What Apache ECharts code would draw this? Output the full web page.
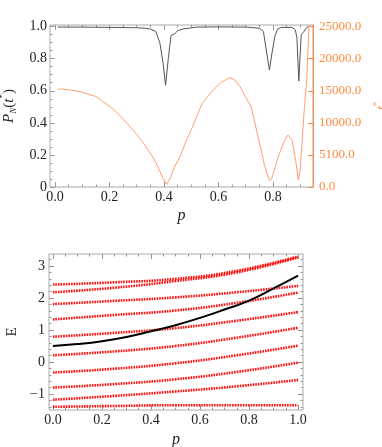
<!DOCTYPE html>
<html style="height: 100%">
<head>
<meta charset="utf-8">
<script src="https://cdn.jsdelivr.net/npm/echarts@6/dist/echarts.min.js"></script>
<style type="text/css">
  *{ margin: 0; padding: 0; }
</style>
</head>
<body style="height: 100%; margin: 0; background: #fff">
<div id="container" style="width: 382px; height: 447px"></div>
<script type="text/javascript">
// ---- top panel: P_N(t*) (gray, left axis) and t* (orange, right axis) vs p
var grayP = [0.01, 0.1, 0.2, 0.3, 0.33, 0.35, 0.37, 0.385, 0.397, 0.406, 0.416, 0.426, 0.44, 0.45, 0.47, 0.52,
             0.6, 0.7, 0.75, 0.765, 0.775, 0.787, 0.797, 0.807, 0.817, 0.83, 0.87, 0.882, 0.888, 0.895, 0.9,
             0.904, 0.912, 0.924, 0.93];
var grayVal = [0.997, 0.997, 0.995, 0.993, 0.99, 0.985, 0.97, 0.90, 0.77, 0.635, 0.80, 0.945, 0.955, 0.975, 0.985, 0.997,
               0.998, 0.997, 0.99, 0.97, 0.86, 0.73, 0.84, 0.94, 0.985, 0.995, 0.995, 0.98, 0.93, 0.66, 0.83,
               0.95, 0.965, 0.995, 1.0];
var orangeP = [0.01, 0.02, 0.05, 0.085, 0.12, 0.15, 0.18, 0.21, 0.24, 0.27, 0.30, 0.33, 0.36, 0.38, 0.395, 0.41,
               0.425, 0.44, 0.46, 0.48, 0.50, 0.54, 0.58, 0.61, 0.64, 0.66, 0.68, 0.70, 0.72, 0.75, 0.77, 0.787,
               0.795, 0.82, 0.84, 0.855, 0.87, 0.885, 0.893, 0.90, 0.914, 0.924, 0.932];
var orangeVal = [15150, 15300, 15150, 14950, 14500, 14100, 13200, 12250, 11100, 9650, 8200, 6550, 4600, 2950, 1500, 380,
                 1600, 3200, 4800, 7000, 8900, 13000, 15100, 16300, 17050, 16700, 15600, 14000, 12500, 7000, 3200, 1000,
                 1250, 4750, 7000, 8100, 7300, 3700, 1100, 2650, 11500, 16700, 25000];
var topXTicks = [0, 0.2, 0.4, 0.6, 0.8];
var leftYTicks = [0, 0.2, 0.4, 0.6, 0.8, 1.0];
var rightYTicks = [0, 5000, 10000, 15000, 20000, 25000];
var rightYLabels = ['0.0', '5100.0', '10000.0', '15000.0', '20000.0', '25000.0'];

// ---- bottom panel: levels E vs p (red) and the black curve
var levelP = [0, 0.25, 0.5, 0.75, 1];
var level1 = [-1.40, -1.375, -1.35, -1.35, -1.35];
var level2 = [-1.18, -1.06, -0.92, -0.76, -0.56];
var level3 = [-0.80, -0.69, -0.54, -0.31, -0.02];
var level4 = [-0.33, -0.21, -0.04, 0.21, 0.51];
var level5 = [0.21, 0.33, 0.50, 0.76, 1.07];
var level6 = [0.79, 0.91, 1.06, 1.29, 1.56];
var level7 = [1.33, 1.47, 1.61, 1.85, 2.17];
var level8 = [1.81, 1.91, 2.02, 2.18, 2.38];
var level9 = [2.18, 2.32, 2.53, 2.80, 3.27];
var level10 = [2.42, 2.49, 2.60, 2.85, 3.30];
var levels = [level1, level2, level3, level4, level5, level6, level7, level8, level9, level10];
var blackP = [0, 0.1, 0.2, 0.3, 0.4, 0.5, 0.6, 0.7, 0.8, 0.9, 1.0];
var blackE = [0.50, 0.56, 0.65, 0.78, 0.96, 1.15, 1.38, 1.64, 1.92, 2.30, 2.70];
var botXTicks = [0, 0.2, 0.4, 0.6, 0.8, 1.0];
var botYTicks = [-1, 0, 1, 2, 3];

var serif = '"Liberation Serif", "DejaVu Serif", serif';
var tickColor = '#999';
var orange = '#ff8a3d';

function steps(a, b, d) {
  var r = [];
  for (var i = 0; a + i * d <= b + 1e-9; i++) r.push(+(a + i * d).toFixed(4));
  return r;
}
function minorOf(all, majors) {
  return all.filter(function (v) {
    return majors.every(function (m) { return Math.abs(m - v) > 1e-6; });
  });
}
function zip(xs, ys) {
  return xs.map(function (x, i) { return [x, ys[i]]; });
}
// an axis that only draws inward frame ticks
function tickAxis(grid, min, max, pos, vals, len, extra) {
  var a = {
    gridIndex: grid, type: 'value', min: min, max: max, position: pos,
    axisLine: {show: false, onZero: false}, splitLine: {show: false},
    axisTick: {show: true, inside: true, length: len, customValues: vals,
               lineStyle: {color: tickColor, width: 1}},
    axisLabel: {show: false}
  };
  for (var k in extra) a[k] = extra[k];
  return a;
}

var topX = [-0.018, 0.947], topY = [0, 1.01], topR = [0, 25250];
var botX = [-0.016, 1.02], botY = [-1.5, 3.375];

function lab(vals, fmt, margin, extra) {
  var o = {show: true, color: '#222', fontFamily: serif, fontSize: 14, customValues: vals, formatter: fmt, margin: margin};
  for (var k in extra) o[k] = extra[k];
  return o;
}
var nameStyle = {fontFamily: serif, fontSize: 15, color: '#222'};

var xAxes = [
  tickAxis(0, topX[0], topX[1], 'bottom', topXTicks, 5, {
    axisLabel: lab(topXTicks, function (v) { return v.toFixed(1); }, 3),
    name: 'p', nameLocation: 'middle', nameGap: 21,
    nameTextStyle: {fontFamily: serif, fontSize: 16, fontStyle: 'italic', color: '#222'}
  }),
  tickAxis(0, topX[0], topX[1], 'bottom', minorOf(steps(0, 0.9, 0.05), topXTicks), 2.5),
  tickAxis(0, topX[0], topX[1], 'top', topXTicks, 5),
  tickAxis(0, topX[0], topX[1], 'top', minorOf(steps(0, 0.9, 0.05), topXTicks), 2.5),
  tickAxis(1, botX[0], botX[1], 'bottom', botXTicks, 5, {
    axisLabel: lab(botXTicks, function (v) { return v.toFixed(1); }, 3),
    name: 'p', nameLocation: 'middle', nameGap: 22,
    nameTextStyle: {fontFamily: serif, fontSize: 16, fontStyle: 'italic', color: '#222'}
  }),
  tickAxis(1, botX[0], botX[1], 'bottom', minorOf(steps(0, 1, 0.05), botXTicks), 2.5),
  tickAxis(1, botX[0], botX[1], 'top', botXTicks, 5),
  tickAxis(1, botX[0], botX[1], 'top', minorOf(steps(0, 1, 0.05), botXTicks), 2.5)
];

var yAxes = [
  tickAxis(0, topY[0], topY[1], 'left', leftYTicks, 5, {
    axisLabel: lab(leftYTicks, function (v) { return v === 0 ? '0' : v.toFixed(1); }, 3),
    name: '{i|P}{sub|N}{n|(}{i|t}{sup|*}{n|)}', nameLocation: 'middle', nameGap: 20, nameRotate: 90,
    nameTextStyle: {
      fontFamily: serif, fontSize: 15, color: '#222',
      rich: {
        i: {fontFamily: serif, fontSize: 15, fontStyle: 'italic', color: '#222', lineHeight: 20},
        n: {fontFamily: serif, fontSize: 15, color: '#222', lineHeight: 20},
        sub: {fontFamily: serif, fontSize: 9, fontStyle: 'italic', color: '#222', lineHeight: 20, verticalAlign: 'bottom'},
        sup: {fontFamily: serif, fontSize: 9, color: '#222', lineHeight: 20, verticalAlign: 'top'}
      }
    }
  }),
  tickAxis(0, topY[0], topY[1], 'left', minorOf(steps(0, 1, 0.05), leftYTicks), 2.5),
  tickAxis(0, topR[0], topR[1], 'right', rightYTicks, 5, {
    axisLine: {show: true, onZero: false, lineStyle: {color: orange, width: 1}},
    axisTick: {show: true, inside: true, length: 5, customValues: rightYTicks, lineStyle: {color: orange}},
    axisLabel: lab(rightYTicks, function (v) { return rightYLabels[rightYTicks.indexOf(v)]; }, 6,
                   {color: orange, fontSize: 13}),
    name: '{i|t}{sup|*}', nameLocation: 'middle', nameGap: 55, nameRotate: 90,
    nameTextStyle: {
      color: orange, fontFamily: serif, fontSize: 15,
      rich: {
        i: {fontFamily: serif, fontSize: 15, fontStyle: 'italic', color: orange, lineHeight: 20},
        sup: {fontFamily: serif, fontSize: 9, color: orange, lineHeight: 20, verticalAlign: 'top'}
      }
    }
  }),
  tickAxis(1, botY[0], botY[1], 'left', botYTicks, 5, {
    axisLabel: lab(botYTicks, function (v) { return v < 0 ? '\u2212' + (-v) : '' + v; }, 4),
    name: 'E', nameLocation: 'middle', nameGap: 22, nameRotate: 90, nameTextStyle: nameStyle
  }),
  tickAxis(1, botY[0], botY[1], 'left', minorOf(steps(-1.4, 3.2, 0.2), botYTicks), 2.5),
  tickAxis(1, botY[0], botY[1], 'right', botYTicks, 5),
  tickAxis(1, botY[0], botY[1], 'right', minorOf(steps(-1.4, 3.2, 0.2), botYTicks), 2.5)
];

var series = [
  {type: 'line', xAxisIndex: 0, yAxisIndex: 0, data: zip(grayP, grayVal), symbol: 'none',
   lineStyle: {color: '#555', width: 1}},
  {type: 'line', xAxisIndex: 0, yAxisIndex: 2, data: zip(orangeP, orangeVal), symbol: 'none',
   lineStyle: {color: '#ffa070', width: 1}}
];
levels.forEach(function (lv) {
  series.push({type: 'line', xAxisIndex: 4, yAxisIndex: 3, data: zip(levelP, lv), symbol: 'none', smooth: true,
               lineStyle: {color: '#ff1010', width: 2.6, type: [1.6, 1]}});
});
series.push({type: 'line', xAxisIndex: 4, yAxisIndex: 3, data: zip(blackP, blackE), symbol: 'none', smooth: true,
             lineStyle: {color: '#000', width: 2}});

var option = {
  animation: false,
  backgroundColor: '#fff',
  grid: [
    {left: 50, top: 25, width: 263, height: 162, show: true, borderColor: '#aaa', borderWidth: 1,
     containLabel: false, outerBoundsMode: 'none'},
    {left: 49, top: 254, width: 254, height: 156, show: true, borderColor: '#aaa', borderWidth: 1,
     containLabel: false, outerBoundsMode: 'none'}
  ],
  xAxis: xAxes,
  yAxis: yAxes,
  series: series
};

var chart = echarts.init(document.getElementById('container'));
chart.setOption(option);
</script>
</body>
</html>
